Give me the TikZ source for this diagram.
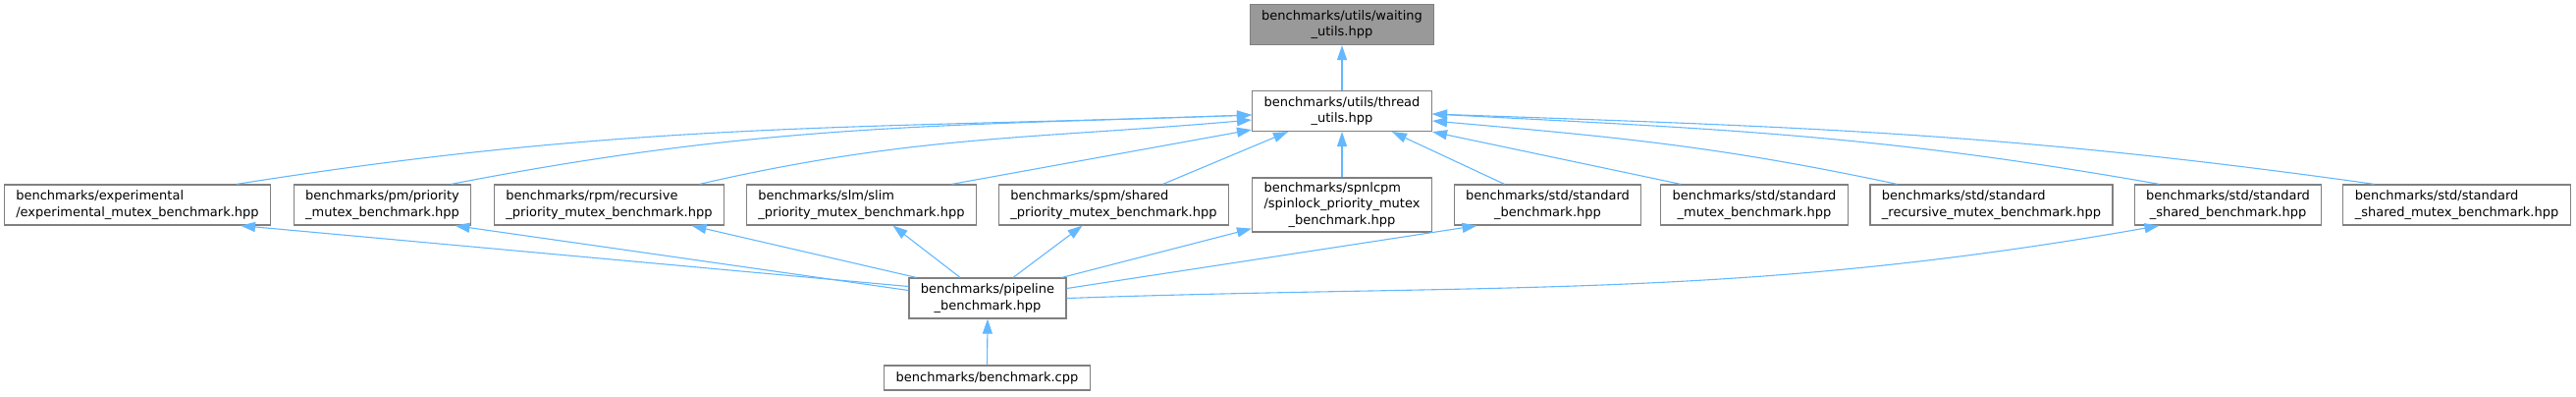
\documentclass[tikz,border=0pt]{standalone}
\usepackage{fontspec}
\setmainfont{DejaVu Sans}
\usetikzlibrary{arrows.meta}

\definecolor{edgeblue}{HTML}{63B8FF}
\definecolor{boxline}{HTML}{808080}
\definecolor{rootfill}{HTML}{999999}

% last line of a label is centred, the others stay left
\newcommand{\lastln}[1]{\hspace*{0pt plus 1fil}#1}

\begin{document}
\begin{tikzpicture}[x=0.5pt, y=0.5pt,
    file/.style={draw=boxline, line width=0.6pt, fill=white, align=left, inner xsep=6pt, inner ysep=2pt, minimum height=20.5pt, font=\fontsize{6.5pt}{8.2pt}\selectfont},
    dep/.style={draw=edgeblue, line width=0.55pt, -{Triangle[length=7.5pt,width=5pt]}}]
    \useasboundingbox (0,0) rectangle (2624,-403);

    % file whose includers are shown
    \node[file, fill=rootfill] (waiting) at (1367,-25) {benchmarks/utils/waiting\\\lastln{\_utils.hpp}};
    \node[file] (thread) at (1367,-113) {benchmarks/utils/thread\\\lastln{\_utils.hpp}};

    % the headers that pull in thread_utils
    \node[file] (experimental) at (140,-208.5) {benchmarks/experimental\\\lastln{/experimental\_mutex\_benchmark.hpp}};
    \node[file] (prio) at (389.5,-208.5) {benchmarks/pm/priority\\\lastln{\_mutex\_benchmark.hpp}};
    \node[file] (recprio) at (620.5,-208.5) {benchmarks/rpm/recursive\\\lastln{\_priority\_mutex\_benchmark.hpp}};
    \node[file] (slim) at (877.5,-208.5) {benchmarks/slm/slim\\\lastln{\_priority\_mutex\_benchmark.hpp}};
    \node[file] (shared) at (1134.5,-208.5) {benchmarks/spm/shared\\\lastln{\_priority\_mutex\_benchmark.hpp}};
    \node[file, minimum height=27.5pt] (spinlock) at (1367,-208.5) {benchmarks/spnlcpm\\/spinlock\_priority\_mutex\\\lastln{\_benchmark.hpp}};
    \node[file] (stdbench) at (1576.5,-208.5) {benchmarks/std/standard\\\lastln{\_benchmark.hpp}};
    \node[file] (stdmutex) at (1787,-208.5) {benchmarks/std/standard\\\lastln{\_mutex\_benchmark.hpp}};
    \node[file] (stdrec) at (2028.5,-208.5) {benchmarks/std/standard\\\lastln{\_recursive\_mutex\_benchmark.hpp}};
    \node[file] (stdshared) at (2269.5,-208.5) {benchmarks/std/standard\\\lastln{\_shared\_benchmark.hpp}};
    \node[file] (stdsharedmutex) at (2502.5,-208.5) {benchmarks/std/standard\\\lastln{\_shared\_mutex\_benchmark.hpp}};

    % pipeline and the source file
    \node[file] (pipeline) at (1006,-303.5) {benchmarks/pipeline\\\lastln{\_benchmark.hpp}};
    \node[file, minimum height=12.5pt] (benchcpp) at (1005.5,-384.5) {benchmarks/benchmark.cpp};

    \draw[dep] (thread.north) -- (waiting.south);

    % edges up to thread_utils
    \draw[dep] ([xshift=50.5pt]experimental.north) to[out=9, in=182] ([yshift=-2pt]thread.west);
    \draw[dep] ([xshift=35pt]prio.north) to[out=11, in=182] ([yshift=-2pt]thread.west);
    \draw[dep] ([xshift=46pt]recprio.north) to[out=13, in=185] ([yshift=-4.5pt]thread.west);
    \draw[dep] ([xshift=46pt]slim.north) -- ([yshift=-9.5pt]thread.west);
    \draw[dep] ([xshift=25pt]shared.north) -- ([xshift=-27.5pt]thread.south);
    \draw[dep] (spinlock.north) -- (thread.south);
    \draw[dep] ([xshift=-22pt]stdbench.north) -- ([xshift=25.5pt]thread.south);
    \draw[dep] ([xshift=-37.5pt]stdmutex.north) -- (thread.south east);
    \draw[dep] ([xshift=-48pt]stdrec.north) to[out=168, in=-5] ([yshift=-5pt]thread.east);
    \draw[dep] ([xshift=-35pt]stdshared.north) to[out=170, in=-3] ([yshift=-1.5pt]thread.east);
    \draw[dep] ([xshift=-42pt]stdsharedmutex.north) to[out=172, in=-2] ([yshift=-1.5pt]thread.east);

    % edges from pipeline
    \draw[dep] ([yshift=6pt]pipeline.west) -- ([xshift=52.5pt]experimental.south);
    \draw[dep] ([yshift=4pt]pipeline.west) -- ([xshift=37pt]prio.south);
    \draw[dep] ([xshift=4pt]pipeline.north west) -- ([xshift=42pt]recprio.south);
    \draw[dep] ([xshift=-14pt]pipeline.north) -- ([xshift=16pt]slim.south);
    \draw[dep] ([xshift=13pt]pipeline.north) -- ([xshift=-16pt]shared.south);
    \draw[dep] ([xshift=-2.5pt]pipeline.north east) -- ([yshift=2pt]spinlock.south west);
    \draw[dep] ([yshift=5pt]pipeline.east) -- ([xshift=-36pt]stdbench.south);
    \draw[dep] (pipeline.east) to[out=2, in=190] ([xshift=-35pt]stdshared.south);

    \draw[dep] (benchcpp.north) -- (pipeline.south);
\end{tikzpicture}
\end{document}
